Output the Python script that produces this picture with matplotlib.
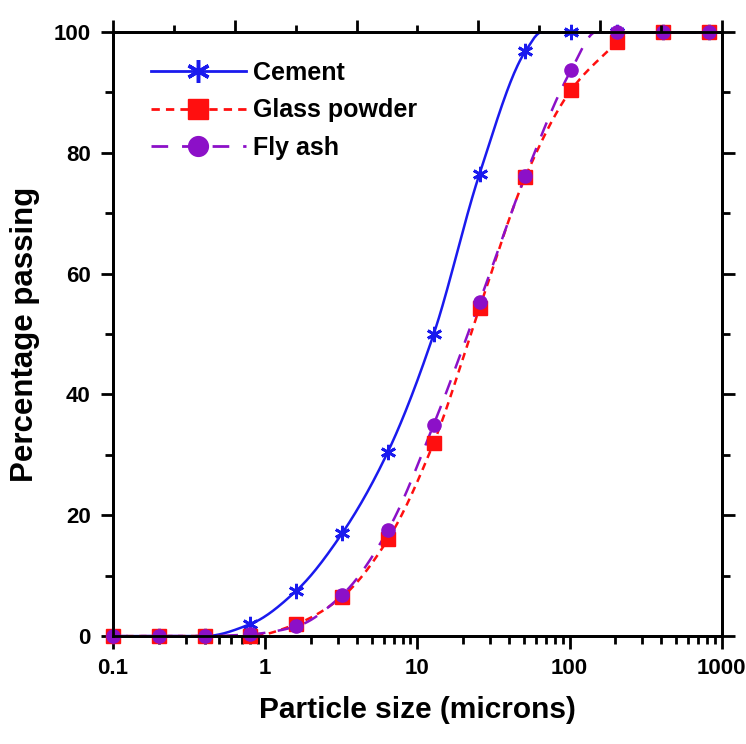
import numpy as np
import matplotlib
matplotlib.use("Agg")
import matplotlib.pyplot as plt
from matplotlib.ticker import MultipleLocator, LogLocator, NullFormatter, FixedLocator

plt.rcParams['font.family'] = ['Liberation Sans', 'DejaVu Sans']
plt.rcParams['font.weight'] = 'bold'

# sieve sizes (microns)
sizes = [0.1, 0.2, 0.4, 0.8, 1.6, 3.2, 6.4, 12.8, 25.6, 51.2, 102.4, 204.8, 409.6, 819.2]

# percentage passing
cement = [0, 0, 0, 2, 7.5, 17, 30.5, 50, 76.5, 96.8, 100, 100, 100, 100]
glass_powder = [0, 0, 0, 0, 2, 6.5, 16, 32, 54.3, 76, 90.4, 98.3, 100, 100]
fly_ash = [0, 0, 0, 0.3, 1.6, 6.8, 17.5, 35, 55.3, 76.2, 93.7, 100, 100, 100]

# size where each fitted curve reaches 100 %
top_out = {"Cement": 66, "Glass powder": 240, "Fly ash": 150}


def pchip(x, y, xnew):
    # monotone cubic (Fritsch-Carlson) just to draw a smooth line through the points
    x = np.asarray(x, float)
    y = np.asarray(y, float)
    h = np.diff(x)
    d = np.diff(y) / h
    m = np.zeros_like(y)
    for i in range(1, len(x) - 1):
        if d[i - 1] * d[i] > 0:
            w1 = 2 * h[i] + h[i - 1]
            w2 = h[i] + 2 * h[i - 1]
            m[i] = (w1 + w2) / (w1 / d[i - 1] + w2 / d[i])
    m[0] = d[0]
    m[-1] = d[-1]
    idx = np.clip(np.searchsorted(x, xnew) - 1, 0, len(x) - 2)
    t = (xnew - x[idx]) / h[idx]
    h00 = 2 * t**3 - 3 * t**2 + 1
    h10 = t**3 - 2 * t**2 + t
    h01 = -2 * t**3 + 3 * t**2
    h11 = t**3 - t**2
    return h00 * y[idx] + h10 * h[idx] * m[idx] + h01 * y[idx + 1] + h11 * h[idx] * m[idx + 1]


fig = plt.figure(figsize=(7.46, 7.44), dpi=100)
ax = fig.add_axes([0.1515, 0.145, 0.816, 0.812])

fine = np.linspace(np.log10(sizes[0]), np.log10(sizes[-1]), 500)

series = [
    ("Cement", cement, "#1a1aee", "-", (6, 2, 0), 11),
    ("Glass powder", glass_powder, "#ff0f0f", (0, (3, 2.2)), "s", 10),
    ("Fly ash", fly_ash, "#8c10c8", (0, (6, 5)), "o", 9.5),
]

for name, vals, col, ls, mk, ms in series:
    # knots for the line: points below 100 %, then the size where it tops out
    kx = [s for s, v in zip(sizes, vals) if v < 100] + [top_out[name], sizes[-1]]
    ky = [v for v in vals if v < 100] + [100, 100]
    curve = np.clip(pchip(np.log10(kx), ky, fine), 0, 100)
    ax.plot(10**fine, curve, color=col, ls=ls, lw=1.8, zorder=3)
    ax.plot(sizes, vals, ls="none", marker=mk, ms=ms, color=col,
            mec=col, mew=2 if name == "Cement" else 1, clip_on=False, zorder=4)
    # legend handle
    ax.plot([], [], color=col, ls=ls, lw=2, marker=mk, ms=ms * 1.5,
            mec=col, mew=2.5 if name == "Cement" else 1, label=name)

ax.set_xscale("log")
ax.set_xlim(0.1, 1000)
ax.set_ylim(0, 100)
ax.set_xticks([0.1, 1, 10, 100, 1000])
ax.set_xticklabels(["0.1", "1", "10", "100", "1000"])
ax.xaxis.set_minor_locator(LogLocator(base=10, subs=np.arange(2, 10), numticks=20))
ax.xaxis.set_minor_formatter(NullFormatter())
ax.yaxis.set_major_locator(MultipleLocator(20))
ax.yaxis.set_minor_locator(MultipleLocator(10))

ax.tick_params(which="both", direction="out", width=2, labelsize=16, right=True)
ax.tick_params(which="major", length=9, pad=7)
ax.tick_params(which="minor", length=6)
for s in ax.spines.values():
    s.set_linewidth(2)

# top axis has its own evenly spaced ticks, no labels
top = ax.twiny()
top.set_xlim(0, 1)
top.xaxis.set_major_locator(FixedLocator(np.arange(0, 1.01, 0.2)))
top.xaxis.set_minor_locator(FixedLocator(np.arange(0.1, 1.0, 0.2)))
top.tick_params(which="both", direction="out", width=2, labeltop=False)
top.tick_params(which="major", length=9)
top.tick_params(which="minor", length=5)
for s in top.spines.values():
    s.set_linewidth(2)

ax.set_xlabel("Particle size (microns)", fontsize=21.5, fontweight="bold", labelpad=12)
ax.set_ylabel("Percentage passing", fontsize=22.5, fontweight="bold", labelpad=10)

leg = ax.legend(loc="upper left", bbox_to_anchor=(0.025, 0.99), frameon=False,
                fontsize=18, handlelength=3.8, labelspacing=0.55, handletextpad=0.3)

fig.savefig("out.png", dpi=100)
